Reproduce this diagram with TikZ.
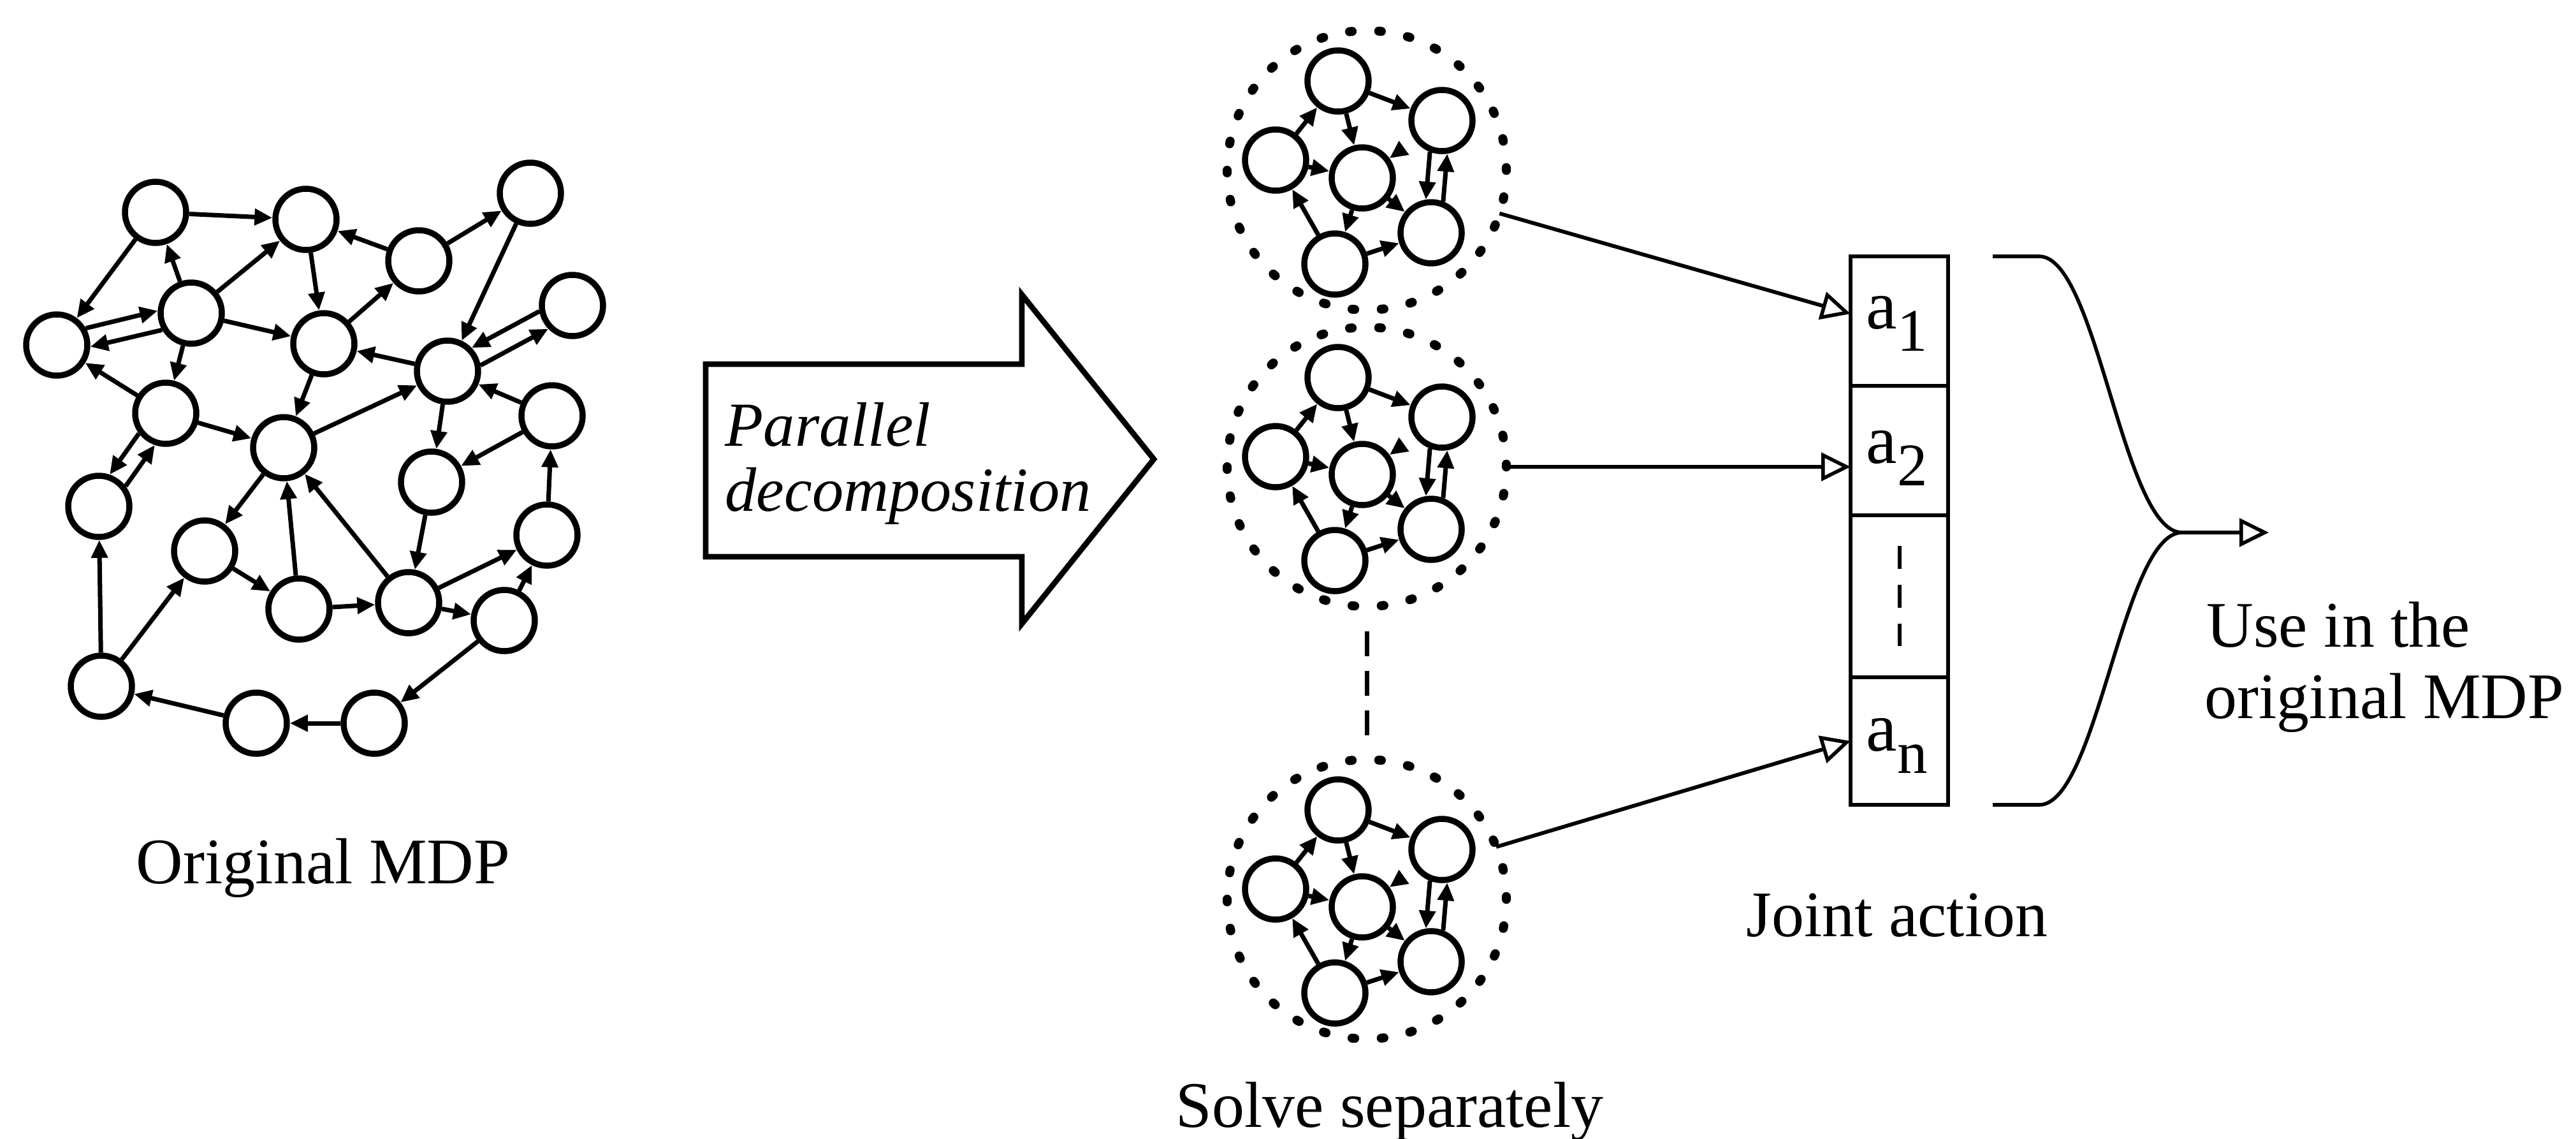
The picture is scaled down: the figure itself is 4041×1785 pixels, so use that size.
\documentclass[tikz,border=0pt]{standalone}
\usepackage{fontspec}
\setmainfont{Liberation Serif}
\usetikzlibrary{arrows.meta}

\tikzset{
  st/.style={circle, draw, line width=2.7pt, minimum size=9.6mm, inner sep=0pt},
  ed/.style={line width=2pt, -{Triangle[length=2.8mm,width=2.5mm]}},
  grp/.style={circle, draw, line width=4pt, line cap=round, dash pattern=on 1.2pt off 11.85pt, minimum size=43.8mm, inner sep=0pt, outer sep=0pt},
  cellbox/.style={rectangle, draw, line width=1.9pt, minimum width=15.3mm, inner sep=0pt, outer sep=0pt},
  conn/.style={line width=1.7pt, -{Triangle[open,length=4.6mm,width=4.4mm,line width=1.6pt]}},
  lbl/.style={font=\fontsize{29}{33}\selectfont, inner sep=0pt, anchor=base},
  itl/.style={font=\fontsize{28}{30}\selectfont\itshape, inner sep=0pt, anchor=base west},
  albl/.style={font=\fontsize{31}{31}\selectfont, inner sep=0pt, anchor=base west},
}

\newcommand{\mdpcluster}[3]{%
  \begin{scope}[shift={(#2,#3)}]
    \node[grp] (#1) at (0,0) {};
    \node[st] (#1a) at (-45,-140) {};
    \node[st] (#1b) at (118,-78) {};
    \node[st] (#1c) at (-143,-16) {};
    \node[st] (#1d) at (-7,12) {};
    \node[st] (#1e) at (101,98) {};
    \node[st] (#1f) at (-50,147) {};
    \draw[ed] (#1a) -- (#1b);
    \draw[ed] (#1c) -- (#1a);
    \draw[ed] (#1a) -- (#1d);
    \draw[ed] (#1c) -- (#1d);
    \draw[ed] (#1f) -- (#1c);
    \draw[ed] (#1d) -- (#1f);
    \draw[ed] (#1f) -- (#1e);
    \draw[ed] (#1d) -- (#1e);
    \draw[ed, shorten <=3mm] (#1b) -- (#1d);
    \draw[ed] (#1b.249.5) -- (#1e.99.5);
    \draw[ed] (#1e.69.5) -- (#1b.279.5);
  \end{scope}}

\begin{document}
\begin{tikzpicture}[x=0.1mm, y=-0.1mm]
\useasboundingbox (0,0) rectangle (4041,1785);

% ---------- original MDP ----------
\node[st] (A) at (244,333) {};
\node[st] (B) at (480,344) {};
\node[st] (C) at (832,303) {};
\node[st] (D) at (657,409) {};
\node[st] (E) at (89,541) {};
\node[st] (F) at (300,491) {};
\node[st] (G) at (508,539) {};
\node[st] (H) at (898,479) {};
\node[st] (I) at (702,582) {};
\node[st] (J) at (260,648) {};
\node[st] (K) at (445,702) {};
\node[st] (L) at (866,652) {};
\node[st] (M) at (155,794) {};
\node[st] (N) at (677,756) {};
\node[st] (O) at (321,864) {};
\node[st] (P) at (858,839) {};
\node[st] (Q) at (469,955) {};
\node[st] (R) at (641,945) {};
\node[st] (S) at (791,973) {};
\node[st] (T) at (159,1076) {};
\node[st] (U) at (402,1134) {};
\node[st] (V) at (587,1134) {};

\draw[ed] (A) -- (B);
\draw[ed] (A) -- (E);
\draw[ed] (F) -- (A);
\draw[ed] (F) -- (B);
\draw[ed] (D) -- (B);
\draw[ed] (D) -- (C);
\draw[ed] (B) -- (G);
\draw[ed] (G) -- (D);
\draw[ed] (E.30.3) -- (F.176.3);
\draw[ed] (F.210.3) -- (E.-3.7);
\draw[ed] (F) -- (G);
\draw[ed] (F) -- (J);
\draw[ed] (J) -- (E);
\draw[ed] (C) -- (I);
\draw[ed] (H.190.7) -- (I.44.7);
\draw[ed] (I.10.7) -- (H.224.7);
\draw[ed] (I) -- (G);
\draw[ed] (G) -- (K);
\draw[ed] (J) -- (K);
\draw[ed] (K) -- (I);
\draw[ed] (I) -- (N);
\draw[ed] (L) -- (I);
\draw[ed] (L) -- (N);
\draw[ed] (J.217.3) -- (M.71.3);
\draw[ed] (M.37.3) -- (J.251.3);
\draw[ed] (K) -- (O);
\draw[ed] (Q) -- (K);
\draw[ed] (R) -- (K);
\draw[ed] (N) -- (R);
\draw[ed] (O) -- (Q);
\draw[ed] (Q) -- (R);
\draw[ed] (R) -- (P);
\draw[ed] (R) -- (S);
\draw[ed] (S) -- (P);
\draw[ed] (P) -- (L);
\draw[ed] (S) -- (V);
\draw[ed] (V) -- (U);
\draw[ed] (U) -- (T);
\draw[ed] (T) -- (M);
\draw[ed] (T) -- (O);

\node[lbl] (orig) at (507,1385) {Original MDP};

% ---------- block arrow ----------
\draw[line width=2.5pt, line join=miter] (1107,571) -- (1603,571) -- (1603,462) -- (1810,720)
  -- (1603,978) -- (1603,873) -- (1107,873) -- cycle;
\node[itl] (par1) at (1137,699) {Parallel};
\node[itl] (par2) at (1137,801) {decomposition};

% ---------- sub-MDPs ----------
\mdpcluster{cl1}{2144}{267}
\mdpcluster{cl2}{2144}{732}
\mdpcluster{cl3}{2144}{1410}
\draw[line width=2pt, dash pattern=on 11.1pt off 6.5pt, shorten <=3.9mm, shorten >=3.8mm] (cl2.south) -- (cl3.north);
\node[lbl] (solve) at (2180,1767) {Solve separately};

% ---------- joint action ----------
\node[cellbox, minimum height=20.3mm] (c1) at (2979.5,503.5) {};
\node[cellbox, minimum height=20.3mm] (c2) at (2979.5,706.5) {};
\node[cellbox, minimum height=25.4mm] (c3) at (2979.5,935) {};
\node[cellbox, minimum height=20mm] (c4) at (2979.5,1162) {};
\node[albl] (l1) at (2927,515) {a\raisebox{-10pt}{\fontsize{27}{27}\selectfont 1}};
\node[albl] (l2) at (2927,726) {a\raisebox{-10pt}{\fontsize{27}{27}\selectfont 2}};
\node[albl] (l4) at (2927,1177) {a\raisebox{-10pt}{\fontsize{27}{27}\selectfont n}};
\draw[line width=1.7pt, dash pattern=on 10.2pt off 7.1pt] ([yshift=-4.8mm]c3.north) -- ([yshift=4.8mm]c3.south);
\node[lbl] (joint) at (2976,1468) {Joint action};

\draw[conn] (cl1.-18) -- ([yshift=1.15mm]c1.west);
\draw[conn] (cl2.east) -- ([yshift=-2.55mm]c2.west);
\draw[conn] (cl3.22) -- (c4.west);

% ---------- brace ----------
\coordinate (btop) at (3126,402);
\coordinate (bbot) at (3126,1262);
\coordinate (btip) at (3423,835);
\coordinate (bout) at (3559,835);
\draw[line width=1.6pt] (btop) -- (3199,402) .. controls (3290,402) and (3330,835) .. (btip)
  .. controls (3330,835) and (3290,1262) .. (3199,1262) -- (bbot);
\draw[conn] (btip) -- (bout);
\node[lbl, anchor=base west] (use1) at (3461,1014) {Use in the};
\node[lbl, anchor=base west] (use2) at (3458,1126) {original MDP};
\end{tikzpicture}
\end{document}
